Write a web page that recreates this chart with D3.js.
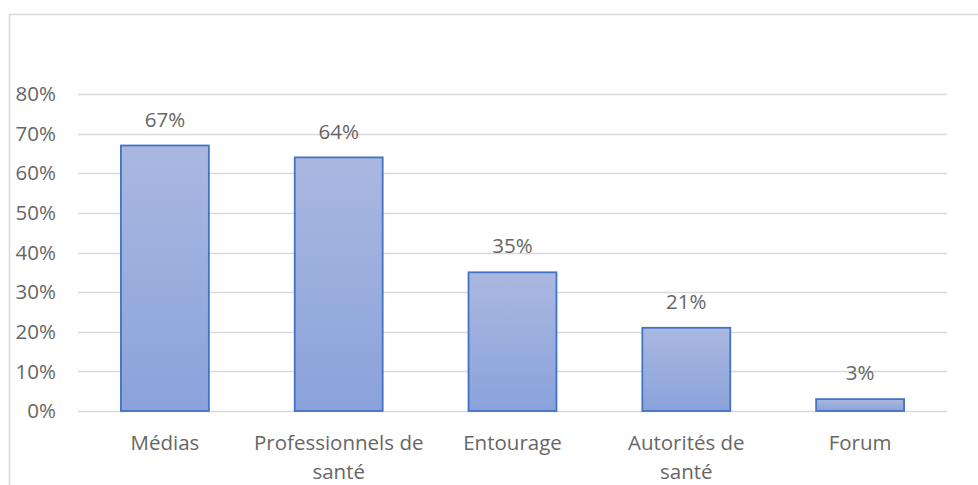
<!DOCTYPE html>
<html>
<head>
<meta charset="utf-8">
<script src="https://cdn.jsdelivr.net/npm/d3@7"></script>
<style>
  html, body { margin: 0; padding: 0; background: #fff; }
  svg { display: block; font-family: "Open Sans", sans-serif; }
</style>
</head>
<body>
<svg id="chart" width="978" height="485"></svg>
<script>
// data
const categories = [["Médias"], ["Professionnels de", "santé"], ["Entourage"], ["Autorités de", "santé"], ["Forum"]];
const values = [0.67, 0.64, 0.35, 0.21, 0.03];
const yTicks = [0, 0.1, 0.2, 0.3, 0.4, 0.5, 0.6, 0.7, 0.8];

const svg = d3.select('#chart');
const margin = {left: 78, right: 31, top: 94, bottom: 74};
const W = 978, H = 485;
const FS = 20.5;
const TEXT = '#666666';

// frame (only top and left edges are inside the picture)
svg.append('path')
    .attr('d', `M9.5,${H} V14.5 H${W}`)
    .attr('fill', 'none')
    .attr('stroke', '#d9d9d9')
    .attr('stroke-width', 1.5);

const x = d3.scaleBand()
    .domain(d3.range(categories.length))
    .range([margin.left, W - margin.right])
    .paddingInner(0.494)
    .paddingOuter(0.247);

const y = d3.scaleLinear()
    .domain([0, 0.8])
    .range([H - margin.bottom, margin.top]);

const defs = svg.append('defs');
const grad = defs.append('linearGradient')
    .attr('id', 'barFill')
    .attr('x1', 0).attr('y1', 0).attr('x2', 0).attr('y2', 1);
grad.append('stop').attr('offset', '0%').attr('stop-color', '#aab8e0');
grad.append('stop').attr('offset', '100%').attr('stop-color', '#8aa2db');

// gridlines
svg.append('g')
  .selectAll('line')
  .data(yTicks)
  .join('line')
    .attr('x1', margin.left)
    .attr('x2', W - margin.right)
    .attr('y1', d => Math.round(y(d)) + 0.5)
    .attr('y2', d => Math.round(y(d)) + 0.5)
    .attr('stroke', '#d9d9d9')
    .attr('stroke-width', 1.5);

// y tick labels
svg.append('g')
  .selectAll('text')
  .data(yTicks)
  .join('text')
    .attr('x', 56)
    .attr('y', d => y(d))
    .attr('dy', '0.35em')
    .attr('text-anchor', 'end')
    .attr('fill', TEXT)
    .attr('font-size', FS)
    .text(d => d3.format('.0%')(d));

// bars
svg.append('g')
  .selectAll('rect')
  .data(values)
  .join('rect')
    .attr('x', (d, i) => x(i))
    .attr('y', d => y(d))
    .attr('width', x.bandwidth())
    .attr('height', d => y(0) - y(d))
    .attr('fill', 'url(#barFill)')
    .attr('stroke', '#4472c4')
    .attr('stroke-width', 1.8);

// value labels
svg.append('g')
  .selectAll('text')
  .data(values)
  .join('text')
    .attr('x', (d, i) => x(i) + x.bandwidth() / 2)
    .attr('y', d => y(d) - 26)
    .attr('dy', '0.35em')
    .attr('text-anchor', 'middle')
    .attr('fill', TEXT)
    .attr('font-size', FS)
    .text(d => d3.format('.0%')(d));

// category labels
svg.append('g')
  .selectAll('text')
  .data(categories)
  .join('text')
    .attr('x', (d, i) => x(i) + x.bandwidth() / 2)
    .attr('y', 443)
    .attr('text-anchor', 'middle')
    .attr('fill', TEXT)
    .attr('font-size', FS)
    .each(function(lines) {
      d3.select(this).selectAll('tspan')
        .data(lines)
        .join('tspan')
          .attr('x', d3.select(this).attr('x'))
          .attr('dy', (d, j) => j === 0 ? '0.35em' : '1.4em')
          .text(d => d);
    });
</script>
</body>
</html>
